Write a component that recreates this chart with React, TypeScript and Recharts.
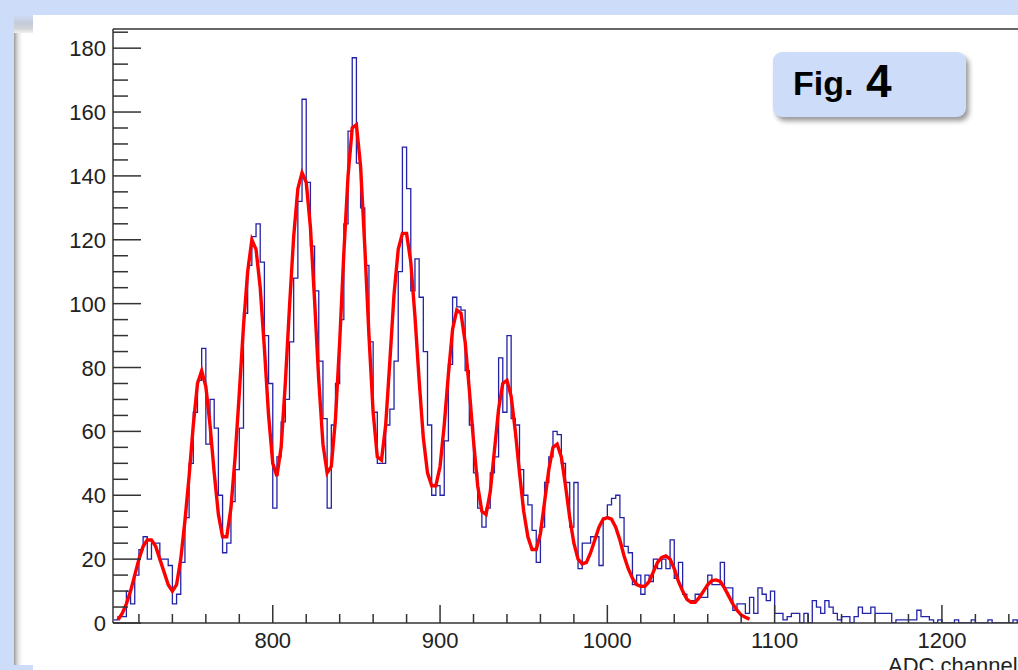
import { ComposedChart, Line, XAxis, YAxis, ReferenceLine } from "recharts";

// histogram: bins of 2.5 ADC channels starting at 705
const binStart = 705;
const binWidth = 2.5;
const counts = [
  1, 2, 2, 10, 6, 15, 23, 27, 20, 25,
  25, 20, 20, 18, 6, 9, 19, 33, 50, 66,
  76, 86, 56, 70, 61, 40, 22, 25, 38, 48,
  61, 97, 112, 121, 125, 113, 90, 75, 36, 52,
  63, 70, 88, 108, 132, 164, 138, 118, 104, 82,
  64, 36, 62, 75, 95, 125, 154, 177, 144, 130,
  112, 88, 66, 50, 50, 62, 67, 82, 110, 149,
  136, 104, 114, 102, 85, 62, 40, 43, 40, 57,
  81, 102, 99, 98, 79, 62, 47, 36, 30, 36,
  47, 52, 83, 66, 90, 64, 62, 48, 40, 37,
  29, 19, 30, 44, 52, 60, 59, 50, 44, 30,
  44, 17, 25, 25, 27, 27, 18, 33, 37, 39,
  40, 33, 24, 22, 12, 15, 9, 15, 13, 20,
  17, 20, 17, 26, 14, 19, 9, 7, 7, 9,
  8, 8, 15, 12, 12, 19, 11, 11, 4, 6,
  6, 3, 8, 3, 11, 9, 7, 10, 3, 3,
  1, 2, 3, 3, 0, 3, 0, 7, 5, 3,
  7, 5, 3, 1, 2, 2, 0, 2, 5, 3,
  3, 5, 3, 3, 3, 3, 0, 1, 1, 1,
  1, 1, 4, 2, 2, 1, 0, 1, 0, 0,
  0, 1, 0, 0, 0, 1, 0, 0, 0, 1,
  0, 0, 0, 0, 0, 1, 0, 0,
];

// multi-peak fit, sampled every 2.5 channels from 707.5
const fitStart = 707.5;
const fitStep = 2.5;
const fitValues = [
  1, 3, 6, 10, 15, 20, 24, 26, 26, 24,
  20, 16, 12, 10, 12, 20, 32, 46, 62, 75,
  79, 74, 62, 47, 34, 27, 27, 36, 52, 72,
  93, 110, 120, 117, 105, 86, 65, 50, 46, 55,
  75, 99, 121, 136, 141, 138, 124, 101, 76, 56,
  47, 49, 64, 88, 116, 140, 155, 156, 143, 118,
  90, 66, 52, 51, 62, 82, 103, 117, 122, 122,
  113, 96, 76, 58, 47, 43, 43, 49, 62, 78,
  92, 98, 97, 88, 73, 57, 43, 35, 34, 41,
  54, 67, 75, 76, 71, 60, 47, 35, 27, 23,
  23, 28, 38, 48, 55, 56, 52, 43, 33, 25,
  20, 18.5, 19, 22, 26, 30, 32.5, 33, 32.5, 30,
  26, 21, 17, 14, 12, 11.5, 11.5, 13, 16, 19,
  20.5, 21, 20, 17, 13, 10, 7.5, 6.5, 6.5, 8,
  10, 12, 13.3, 13.5, 13, 11, 8.5, 6, 4, 2.5,
  1.8, 1.2,
];

const xTicks = [
  720, 740, 760, 780, 800, 820, 840, 860, 880, 900, 920, 940, 960, 980, 1000,
  1020, 1040, 1060, 1080, 1100, 1120, 1140, 1160, 1180, 1200, 1220, 1240,
];
const xLabels = [800, 900, 1000, 1100, 1200];
const yTicks = [
  0, 5, 10, 15, 20, 25, 30, 35, 40, 45, 50, 55, 60, 65, 70, 75, 80, 85, 90, 95,
  100, 105, 110, 115, 120, 125, 130, 135, 140, 145, 150, 155, 160, 165, 170, 175, 180, 185,
];
const yLabels = [0, 20, 40, 60, 80, 100, 120, 140, 160, 180];

const histData = counts.map((n, i) => ({ x: binStart + i * binWidth, n }));
histData.push({ x: binStart + counts.length * binWidth, n: counts[counts.length - 1] });
const fitData = fitValues.map((f, i) => ({ x: fitStart + i * fitStep, f }));

const FONT = "'Liberation Sans', Arial, Helvetica, sans-serif";
const AXIS = "#333";

function XTick(props: any) {
  const { x, y, payload } = props;
  const major = xLabels.includes(payload.value);
  return (
    <g>
      <line x1={x} x2={x} y1={y} y2={y - (major ? 18 : 9)} stroke={AXIS} strokeWidth={1.5} />
      {major && (
        <text x={x} y={y + 25} textAnchor="middle" fontSize={22} fill="#222" fontFamily={FONT}>
          {payload.value}
        </text>
      )}
    </g>
  );
}

function YTick(props: any) {
  const { x, y, payload } = props;
  const major = yLabels.includes(payload.value);
  return (
    <g>
      <line x1={x} x2={x + (major ? 28 : 15)} y1={y} y2={y} stroke={AXIS} strokeWidth={1.5} />
      {major && (
        <text x={x - 7} y={y + 8} textAnchor="end" fontSize={22} fill="#222" fontFamily={FONT}>
          {payload.value}
        </text>
      )}
    </g>
  );
}

export default function App() {
  return (
    <div
      style={{
        position: "absolute",
        left: 0,
        top: 0,
        width: 1018,
        height: 670,
        overflow: "hidden",
        background: "#cddcf8",
      }}
    >
      {/* slide panels behind the canvas */}
      <div
        style={{
          position: "absolute",
          left: 14,
          top: 22,
          width: 1004,
          height: 643,
          background: "linear-gradient(to right, #9a9a9a 0px, #d4d4d4 3px, #f2f2f2 6px, #ffffff 9px)",
        }}
      />
      <div
        style={{
          position: "absolute",
          left: 14,
          top: 15,
          width: 19,
          height: 18,
          background: "linear-gradient(to bottom, #cddcf8 0%, #c4cbd8 45%, #d2d4d8 75%, #f0f0f0 100%)",
        }}
      />
      <div style={{ position: "absolute", left: 33, top: 15, right: 0, bottom: 0, background: "#fff" }} />

      <div style={{ position: "absolute", left: 0, top: 0 }}>
        <ComposedChart width={1100} height={670} margin={{ top: 29, right: 57.7, bottom: 0, left: 0 }}>
          <XAxis
            type="number"
            dataKey="x"
            domain={[704.5, 1260]}
            allowDataOverflow
            ticks={xTicks}
            interval={0}
            height={47}
            tickSize={0}
            tickMargin={0}
            tickLine={false}
            axisLine={{ stroke: AXIS, strokeWidth: 1.5 }}
            tick={<XTick />}
          />
          <YAxis
            type="number"
            domain={[0, 186]}
            allowDataOverflow
            ticks={yTicks}
            interval={0}
            width={113}
            tickSize={0}
            tickMargin={0}
            tickLine={false}
            axisLine={{ stroke: AXIS, strokeWidth: 1.5 }}
            tick={<YTick />}
          />
          <ReferenceLine y={186} stroke={AXIS} strokeWidth={1.5} />
          <Line
            data={histData}
            dataKey="n"
            type="stepAfter"
            stroke="#2323a8"
            strokeWidth={1.3}
            dot={false}
            activeDot={false}
            isAnimationActive={false}
          />
          <Line
            data={fitData}
            dataKey="f"
            type="linear"
            stroke="#ff0000"
            strokeWidth={3.4}
            dot={false}
            activeDot={false}
            isAnimationActive={false}
          />
        </ComposedChart>
      </div>

      <div
        style={{
          position: "absolute",
          left: 773,
          top: 52,
          width: 193,
          height: 65,
          borderRadius: 9,
          background: "#cddcf8",
          boxShadow: "3px 4px 5px rgba(0,0,0,0.4)",
        }}
      />
      <svg
        width={1018}
        height={670}
        style={{ position: "absolute", left: 0, top: 0, pointerEvents: "none" }}
      >
        <text x={793} y={95} fontSize={34} fontWeight="bold" fill="#000" fontFamily={FONT}>
          Fig.
        </text>
        <text x={866} y={97} fontSize={46} fontWeight="bold" fill="#000" fontFamily={FONT}>
          4
        </text>
        <text x={888} y={673} fontSize={22} fill="#222" fontFamily={FONT}>
          ADC channel
        </text>
      </svg>
    </div>
  );
}
